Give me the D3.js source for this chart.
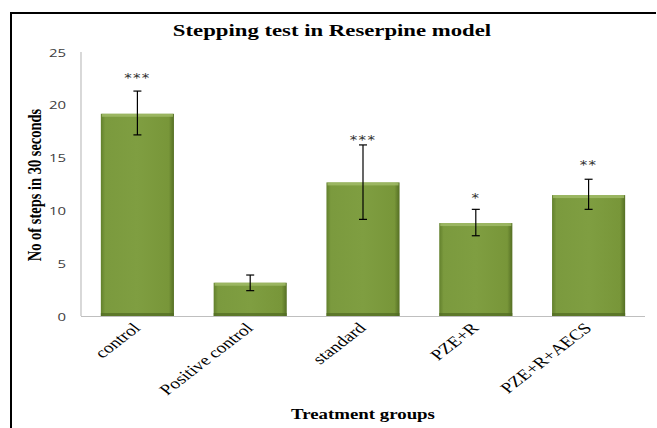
<!DOCTYPE html>
<html>
<head>
<meta charset="utf-8">
<script src="https://cdn.jsdelivr.net/npm/d3@7"></script>
<style>
html,body{margin:0;padding:0;background:#fff;}
svg{display:block;}
</style>
</head>
<body>
<svg id="chart" width="657" height="428"></svg>
<script>
const categories = ["control", "Positive control", "standard", "PZE+R", "PZE+R+AECS"];
const means = [19.15, 3.15, 12.65, 8.8, 11.45];
const errUpper = [21.3, 3.88, 16.2, 10.1, 12.95];
const errLower = [17.15, 2.4, 9.15, 7.6, 10.1];
const stars = ["***", "", "***", "*", "**"];
const starLevels = [22.8, 0, 16.95, 11.45, 14.6];
const yTicks = [0, 5, 10, 15, 20, 25];

const SX = 1.3; // horizontal stretch of the original picture's text
const serif = "Liberation Serif, Times New Roman, serif";

const svg = d3.select("#chart");
const x0 = 81, x1 = 645, yTop = 52, yBot = 316;

const x = d3.scaleBand().domain(categories).range([x0, x1]).paddingInner(0.352).paddingOuter(0.176);
const y = d3.scaleLinear().domain([0, 25]).range([yBot, yTop]);

// frame (top and left lines)
svg.append("line").attr("x1", 10).attr("x2", 656).attr("y1", 13).attr("y2", 13)
  .attr("stroke", "#000").attr("stroke-width", 2);
svg.append("line").attr("x1", 11).attr("x2", 11).attr("y1", 12).attr("y2", 428)
  .attr("stroke", "#000").attr("stroke-width", 2);

// gradients
const defs = svg.append("defs");
const gh = defs.append("linearGradient").attr("id", "gh").attr("x1", "0").attr("x2", "1").attr("y1", "0").attr("y2", "0");
gh.append("stop").attr("offset", "0").attr("stop-color", "#62802c");
gh.append("stop").attr("offset", "0.06").attr("stop-color", "#7b9a3e");
gh.append("stop").attr("offset", "0.5").attr("stop-color", "#7f9e41");
gh.append("stop").attr("offset", "0.93").attr("stop-color", "#789639");
gh.append("stop").attr("offset", "1").attr("stop-color", "#556f24");

// title
svg.append("text").attr("transform", `translate(332,36) scale(${SX},1)`).attr("text-anchor", "middle")
  .attr("font-family", serif).attr("font-weight", "bold")
  .attr("font-size", 17.5).attr("fill", "#000").text("Stepping test in Reserpine model");

// y axis
const yAxis = d3.axisLeft(y).tickValues(yTicks).tickSize(0).tickPadding(15);
const ga = svg.append("g").attr("transform", `translate(${x0},0)`).call(yAxis);
ga.select(".domain").attr("stroke", "#bfbfbf").attr("stroke-width", 1.2).attr("d", `M0,${yTop}V${yBot}`);
ga.selectAll(".tick text").attr("x", null).attr("dy", "0.35em")
  .attr("transform", `translate(-15,0) scale(${SX},1)`)
  .attr("font-family", "Open Sans, DejaVu Sans, sans-serif").attr("font-size", 11.5).attr("fill", "#404040");

// bars
const bars = svg.append("g");
categories.forEach((c, i) => {
  const bx = x(c), bw = x.bandwidth(), by = y(means[i]), bh = y(0) - y(means[i]);
  bars.append("rect").attr("x", bx).attr("y", by).attr("width", bw).attr("height", bh).attr("fill", "url(#gh)");
  bars.append("rect").attr("x", bx + 1).attr("y", by).attr("width", bw - 2).attr("height", 3).attr("fill", "#a3bd6a").attr("opacity", 0.8);
  bars.append("rect").attr("x", bx).attr("y", by + bh - 3).attr("width", bw).attr("height", 3).attr("fill", "#506a22").attr("opacity", 0.7);
});

// baseline
svg.append("line").attr("x1", x0).attr("x2", x1).attr("y1", y(0) + 0.5).attr("y2", y(0) + 0.5)
  .attr("stroke", "#bfbfbf").attr("stroke-width", 1.2);

// error bars
const eb = svg.append("g").attr("stroke", "#000").attr("stroke-width", 1.2);
categories.forEach((c, i) => {
  const cx = x(c) + x.bandwidth() / 2;
  eb.append("line").attr("x1", cx).attr("x2", cx).attr("y1", y(errUpper[i])).attr("y2", y(errLower[i]));
  eb.append("line").attr("x1", cx - 4).attr("x2", cx + 4).attr("y1", y(errUpper[i])).attr("y2", y(errUpper[i]));
  eb.append("line").attr("x1", cx - 4).attr("x2", cx + 4).attr("y1", y(errLower[i])).attr("y2", y(errLower[i]));
});

// stars
categories.forEach((c, i) => {
  if (!stars[i]) return;
  const cx = x(c) + x.bandwidth() / 2;
  svg.append("text").attr("transform", `translate(${cx},${y(starLevels[i]) + 7}) scale(${SX},1)`)
    .attr("text-anchor", "middle")
    .attr("font-family", "DejaVu Sans, sans-serif").attr("font-size", 11.5).attr("letter-spacing", 1)
    .attr("fill", "#333").text(stars[i]);
});

// category labels
categories.forEach((c) => {
  const cx = x(c) + x.bandwidth() / 2 + 4;
  svg.append("text").attr("transform", `translate(${cx},329) scale(${SX},1) rotate(-45)`).attr("text-anchor", "end")
    .attr("font-family", serif).attr("font-size", 15).attr("fill", "#000").text(c);
});

// axis titles
svg.append("text").attr("transform", `translate(363,419) scale(${SX},1)`).attr("text-anchor", "middle")
  .attr("font-family", serif).attr("font-weight", "bold")
  .attr("font-size", 14.5).attr("fill", "#000").text("Treatment groups");
svg.append("text").attr("transform", `translate(41,185) scale(${SX},1) rotate(-90)`).attr("text-anchor", "middle")
  .attr("font-family", serif).attr("font-weight", "bold")
  .attr("font-size", 14.5).attr("fill", "#000").text("No of steps in 30 seconds");
</script>
</body>
</html>
